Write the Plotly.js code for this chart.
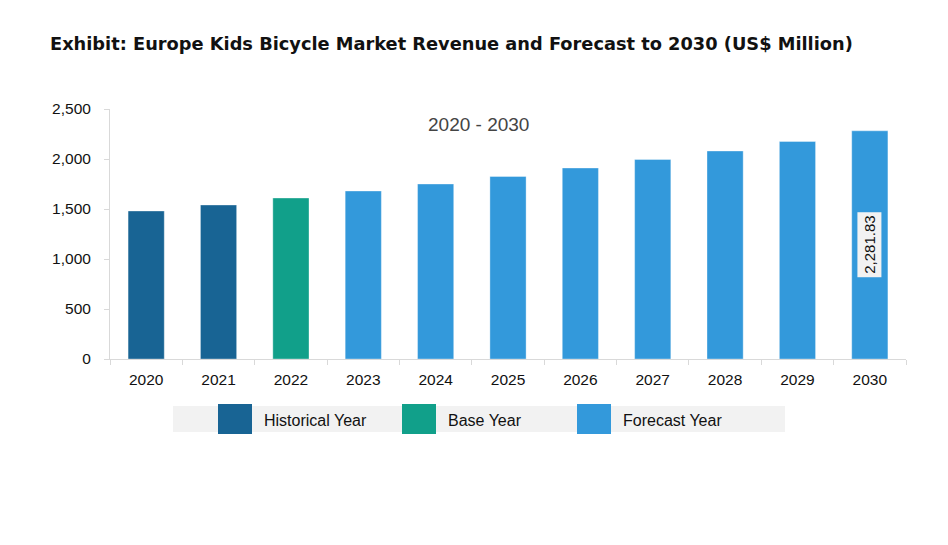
<!DOCTYPE html>
<html><head><meta charset="utf-8">
<script src="https://cdn.plot.ly/plotly-3.0.1.min.js"></script>
<style>body{margin:0;background:#fff}#c{width:948px;height:545px}</style>
</head><body><div id="c"></div>
<script>
const years = ['2020','2021','2022','2023','2024','2025','2026','2027','2028','2029','2030'];
const revenue = [1480, 1540, 1610, 1680, 1750, 1825, 1910, 1995, 2080, 2175, 2281.83];
const yearType = ['Historical Year','Historical Year','Base Year','Forecast Year','Forecast Year','Forecast Year','Forecast Year','Forecast Year','Forecast Year','Forecast Year','Forecast Year'];
const legendLabels = ['Historical Year','Base Year','Forecast Year'];
const typeColors = {'Historical Year':'#186494','Base Year':'#11a08a','Forecast Year':'#3399db'};
const yTicks = [0, 500, 1000, 1500, 2000, 2500];

const trace = {
  type:'bar', x: years, y: revenue,
  marker:{color: yearType.map(t=>typeColors[t]), line:{color:'rgba(255,255,255,0.35)', width:1}},
  hoverinfo:'x+y', showlegend:false
};

const W = 796, H = 250, L = 110, B = 359;
const px = v => (v - L) / W;
const py = v => (B - v) / H;
const shapes = [{type:'rect', xref:'paper', yref:'paper', x0:px(173), x1:px(785), y0:py(432), y1:py(406), fillcolor:'#f2f2f2', line:{width:0}, layer:'below'}];
const swX = [218, 402, 577];
const annotations = [];
legendLabels.forEach((lab,i)=>{
  shapes.push({type:'rect', xref:'paper', yref:'paper', x0:px(swX[i]), x1:px(swX[i]+34), y0:py(434), y1:py(404), fillcolor:typeColors[lab], line:{width:0}});
  annotations.push({xref:'paper', yref:'paper', x:px(swX[i]+44), y:py(420), xanchor:'left', yanchor:'middle', text:lab, showarrow:false, font:{family:'Liberation Sans, Arial', size:16, color:'#111'}});
});
annotations.push({xref:'paper', yref:'paper', x:px(478), y:py(124), xanchor:'center', yanchor:'middle', text:'2020 - 2030', showarrow:false, font:{family:'Liberation Sans, Arial', size:19, color:'#444'}});
const last = revenue.length-1;
annotations.push({x:last, y:revenue[last]/2, text:revenue[last].toLocaleString('en-US',{minimumFractionDigits:2}), textangle:-90, showarrow:false, bgcolor:'#f2f2f2', borderpad:3, font:{family:'Liberation Sans, Arial', size:15, color:'#111'}});

const layout = {
  width:948, height:545,
  margin:{l:110, r:42, t:109, b:186},
  paper_bgcolor:'#fff', plot_bgcolor:'#fff',
  title:{text:'<b>Exhibit: Europe Kids Bicycle Market Revenue and Forecast to 2030 (US$ Million)</b>', x:50/948, xanchor:'left', y:1-44/545, yanchor:'middle', font:{family:'DejaVu Sans, Verdana', size:17.8, color:'#111'}},
  xaxis:{type:'category', range:[-0.5, years.length-0.5], autorange:false, showline:true, linecolor:'#d9d9d9', linewidth:1, ticks:'outside', tickson:'boundaries', ticklen:5, tickcolor:'#d9d9d9', showgrid:false, ticklabelstandoff:6, tickfont:{family:'Liberation Sans, Arial', size:15.5, color:'#111'}},
  yaxis:{range:[0,2500], autorange:false, tickvals:yTicks, ticktext:yTicks.map(v=>v.toLocaleString('en-US')), showline:true, linecolor:'#d9d9d9', linewidth:1, ticks:'outside', ticklen:5, tickcolor:'#d9d9d9', showgrid:false, zeroline:false, ticklabelstandoff:10, tickfont:{family:'Liberation Sans, Arial', size:15.5, color:'#111'}},
  shapes: shapes, annotations: annotations, bargap:0.5
};
Plotly.newPlot('c',[trace],layout,{displayModeBar:false});
</script></body></html>
